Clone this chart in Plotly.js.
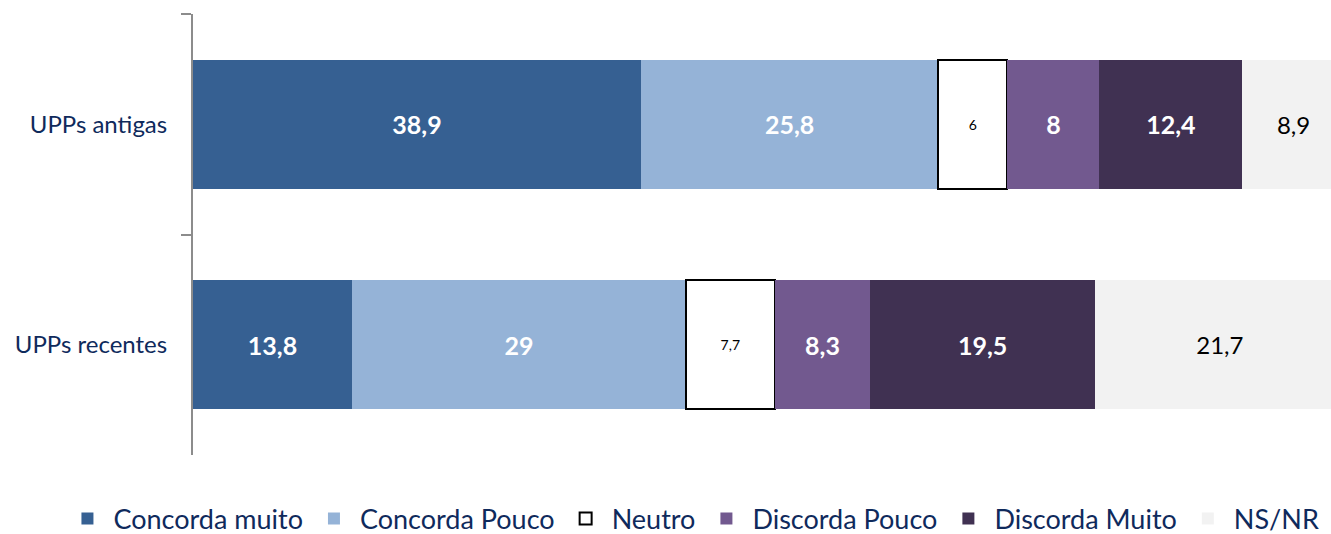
<!DOCTYPE html>
<html>
<head>
<meta charset="utf-8">
<script src="https://cdn.plot.ly/plotly-3.0.1.min.js"></script>
<style>html,body{margin:0;padding:0;background:#fff;}#chart{width:1331px;height:534px;}</style>
</head>
<body>
<div id="chart"></div>
<script>
const categories = ["UPPs antigas", "UPPs recentes"];
const seriesNames = ["Concorda muito", "Concorda Pouco", "Neutro", "Discorda Pouco", "Discorda Muito", "NS/NR"];
const concordaMuito = [38.9, 13.8];
const concordaPouco = [25.8, 29];
const neutro = [6, 7.7];
const discordaPouco = [8, 8.3];
const discordaMuito = [12.4, 19.5];
const nsnr = [8.9, 21.7];

const seriesValues = [concordaMuito, concordaPouco, neutro, discordaPouco, discordaMuito, nsnr];
const colors = ["#366092", "#95B3D7", "#FFFFFF", "#72598F", "#403152", "#F2F2F2"];
const fontFam = "Lato, 'Noto Sans', sans-serif";
const styles = [
  {color: "#FFFFFF", size: 25, bold: true},
  {color: "#FFFFFF", size: 25, bold: true},
  {color: "#000000", size: 14, bold: false},
  {color: "#FFFFFF", size: 25, bold: true},
  {color: "#FFFFFF", size: 25, bold: true},
  {color: "#000000", size: 24, bold: false}
];
const fmt = v => String(v).replace(".", ",");

const traces = seriesValues.map((vals, i) => ({
  type: "bar",
  orientation: "h",
  name: seriesNames[i],
  y: categories,
  x: vals,
  text: vals.map(v => styles[i].bold ? "<b>" + fmt(v) + "</b>" : fmt(v)),
  textposition: "inside",
  insidetextanchor: "middle",
  constraintext: "none",
  textfont: {family: fontFam, size: styles[i].size, color: styles[i].color},
  marker: {color: colors[i], line: {color: i === 2 ? "#000000" : colors[i], width: i === 2 ? 2 : 0}},
  hoverinfo: "skip"
}));

const layout = {
  width: 1331, height: 534,
  margin: {l: 193, r: 0, t: 14, b: 79, autoexpand: false},
  barmode: "stack",
  bargap: 0.415,
  paper_bgcolor: "#FFFFFF",
  plot_bgcolor: "#FFFFFF",
  showlegend: true,
  legend: {
    orientation: "h", x: -0.1156, xanchor: "left", xref: "paper",
    y: -0.145, yanchor: "middle", yref: "paper",
    font: {family: fontFam, size: 27, color: "#0F2A5C"},
    itemwidth: 42,
    traceorder: "normal", itemclick: false
  },
  xaxis: {range: [0, 98.8], visible: false, showgrid: false, zeroline: false, fixedrange: true},
  yaxis: {
    type: "category",
    categoryorder: "array", categoryarray: categories,
    autorange: "reversed",
    showline: true, linecolor: "#8C8C8C", linewidth: 2,
    ticks: "outside", tickson: "boundaries", ticklen: 10, tickcolor: "#8C8C8C", tickwidth: 2,
    ticklabelstandoff: 19,
    showgrid: false, zeroline: false,
    tickfont: {family: fontFam, size: 24, color: "#0F2A5C"}
  }
};

Plotly.newPlot("chart", traces, layout, {displayModeBar: false, staticPlot: true});
</script>
</body>
</html>
